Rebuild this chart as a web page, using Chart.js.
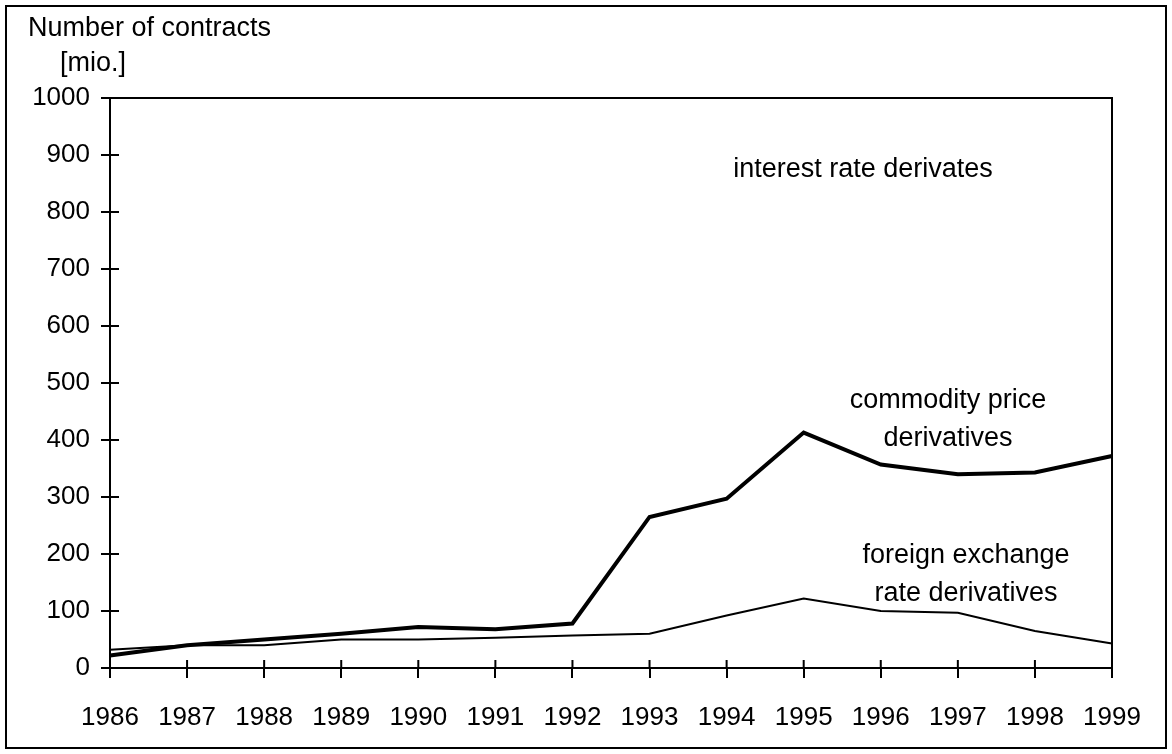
<!DOCTYPE html>
<html>
<head>
<meta charset="utf-8">
<script src="https://cdn.jsdelivr.net/npm/chart.js@4/dist/chart.umd.min.js"></script>
<style>
  html, body { margin: 0; padding: 0; background: #fff; }
  #wrap { width: 1172px; height: 754px; }
</style>
</head>
<body>
<div id="wrap"><canvas id="contractsChart" width="1172" height="754"></canvas></div>
<script>
const years = ['1986', '1987', '1988', '1989', '1990', '1991', '1992', '1993', '1994', '1995', '1996', '1997', '1998', '1999'];
const commodity = [22, 40, 50, 60, 72, 68, 78, 265, 297, 413, 357, 340, 343, 372];
const foreignExchange = [32, 40, 40, 50, 50, 53, 57, 60, 92, 122, 100, 97, 65, 43];
const yTicks = [0, 100, 200, 300, 400, 500, 600, 700, 800, 900, 1000];

const FONT = '"Liberation Sans", Arial, sans-serif';
const FONT_SIZE = 26;

// frame, plot box, inner tick marks and the text labels
const decorations = {
    id: 'decorations',
    beforeDraw(chart) {
        const c = chart.ctx;
        c.save();
        c.fillStyle = '#fff';
        c.fillRect(0, 0, chart.width, chart.height);
        c.restore();
    },
    afterDraw(chart) {
        const c = chart.ctx;
        const a = chart.chartArea;
        const xs = chart.scales.x;
        const ys = chart.scales.y;
        c.save();
        c.strokeStyle = '#000';
        c.lineWidth = 2;
        c.strokeRect(6, 6, chart.width - 12, chart.height - 12);
        c.beginPath();
        c.moveTo(a.left, a.top);
        c.lineTo(a.right, a.top);
        c.lineTo(a.right, a.bottom);
        c.stroke();
        c.beginPath();
        yTicks.forEach(v => {
            const y = ys.getPixelForValue(v);
            c.moveTo(a.left, y);
            c.lineTo(a.left + 9, y);
        });
        years.forEach((_, i) => {
            const x = xs.getPixelForValue(i);
            c.moveTo(x, a.bottom);
            c.lineTo(x, a.bottom - 8);
        });
        c.stroke();

        c.fillStyle = '#000';
        c.font = '27px ' + FONT;
        c.textBaseline = 'middle';
        c.textAlign = 'left';
        c.fillText('Number of contracts', 28, 29);
        c.fillText('[mio.]', 60, 64);
        c.textAlign = 'center';
        c.fillText('interest rate derivates', 863, 170);
        c.fillText('commodity price', 948, 401);
        c.fillText('derivatives', 948, 439);
        c.fillText('foreign exchange', 966, 556);
        c.fillText('rate derivatives', 966, 594);
        c.restore();
    }
};

new Chart(document.getElementById('contractsChart').getContext('2d'), {
    type: 'line',
    data: {
        labels: years,
        datasets: [{
            label: 'commodity price derivatives',
            data: commodity,
            borderColor: '#000',
            borderWidth: 4,
            pointRadius: 0,
            tension: 0
        }, {
            label: 'foreign exchange rate derivatives',
            data: foreignExchange,
            borderColor: '#000',
            borderWidth: 2,
            pointRadius: 0,
            tension: 0
        }]
    },
    options: {
        responsive: false,
        animation: false,
        layout: { padding: { left: 0, top: 98, right: 60, bottom: 0 } },
        plugins: {
            legend: { display: false },
            tooltip: { enabled: false }
        },
        scales: {
            x: {
                offset: false,
                afterFit(scale) { scale.height = 86; },
                grid: { drawOnChartArea: false, color: '#000', lineWidth: 2, tickLength: 10 },
                border: { color: '#000', width: 2 },
                ticks: { color: '#000', font: { family: FONT, size: FONT_SIZE }, padding: 24, maxRotation: 0, autoSkip: false }
            },
            y: {
                min: 0,
                max: 1000,
                afterFit(scale) { scale.width = 110; },
                afterBuildTicks(scale) { scale.ticks = yTicks.map(v => ({ value: v })); },
                grid: { drawOnChartArea: false, color: '#000', lineWidth: 2, tickLength: 9 },
                border: { color: '#000', width: 2 },
                ticks: { color: '#000', font: { family: FONT, size: FONT_SIZE }, padding: 11, callback: v => String(v) }
            }
        }
    },
    plugins: [decorations]
});
</script>
</body>
</html>
